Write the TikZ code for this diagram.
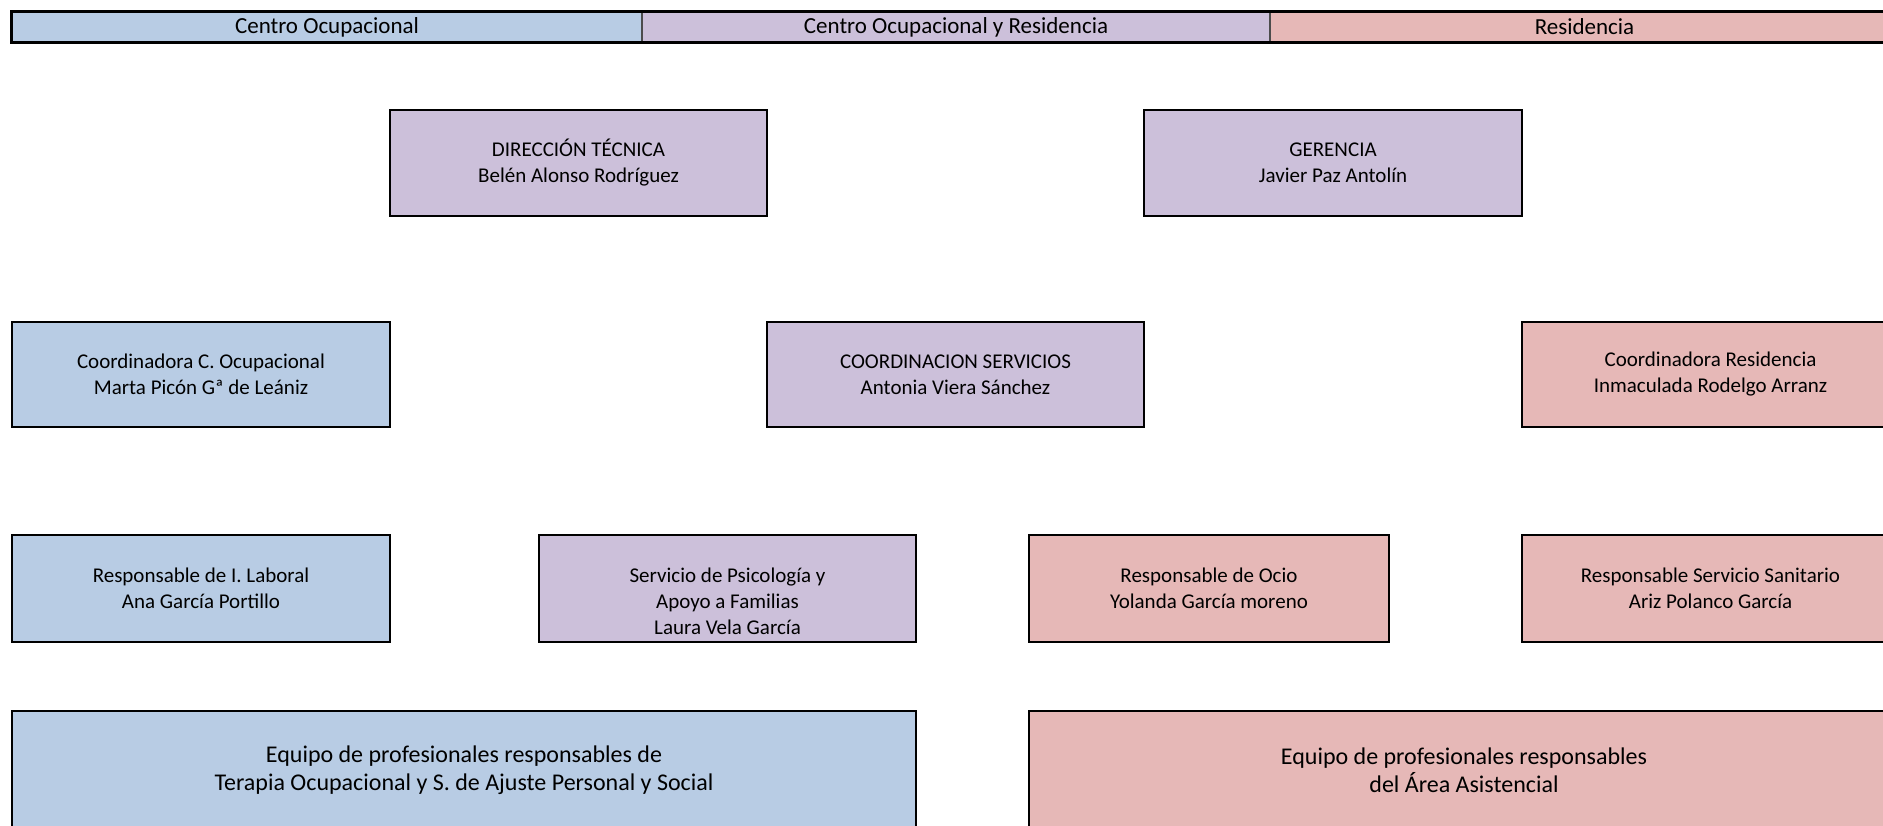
\documentclass[tikz,border=0pt]{standalone}
\usepackage{fontspec}
\setmainfont{Carlito}
\definecolor{ocublue}{RGB}{184,204,228}
\definecolor{ocupurple}{RGB}{204,192,218}
\definecolor{ocupink}{RGB}{230,184,183}
\tikzset{
	orgbox/.style={draw=black, line width=1.3pt, align=center, inner sep=0pt, font=\fontsize{10.5}{13}\selectfont},
	orgtext/.style={align=center, inner sep=0pt, font=\fontsize{10.5}{13}\selectfont},
	headcell/.style={draw=black!70, line width=0.6pt, inner sep=0pt, minimum height=15pt, font=\fontsize{11.5}{13}\selectfont},
	teambox/.style={orgbox, font=\fontsize{12}{14}\selectfont}
}

\begin{document}
\begin{tikzpicture}[x=0.5pt, y=-0.5pt]
			%%%%% START %%%%%
			
			\useasboundingbox (0, 0) rectangle (1883, 825);
			\clip (0, 0) rectangle (1883, 825);
			
			\node[headcell, fill=ocublue, minimum width=315pt] (hdco) at (327, 27) {Centro Ocupacional};
			\node[headcell, fill=ocupurple, minimum width=314pt] (hdcores) at (956, 27) {Centro Ocupacional y Residencia};
			\node[headcell, fill=ocupink, minimum width=314.5pt] (hdres) at (1584.5, 27) {Residencia};
			\draw[line width=1.3pt] (hdco.north west) rectangle (hdres.south east);
			
			\node[orgbox, fill=ocupurple, minimum width=188.5pt, minimum height=53pt] (direccion) at (578.5, 163) {DIRECCIÓN TÉCNICA\\Belén Alonso Rodríguez};
			\node[orgbox, fill=ocupurple, minimum width=189pt, minimum height=53pt] (gerencia) at (1333, 163) {GERENCIA\\Javier Paz Antolín};
			
			\node[orgbox, fill=ocublue, minimum width=189pt, minimum height=52.5pt] (coordco) at (201, 374.5) {Coordinadora C. Ocupacional\\Marta Picón Gª de Leániz};
			\node[orgbox, fill=ocupurple, minimum width=188.5pt, minimum height=52.5pt] (coordserv) at (955.5, 374.5) {COORDINACION SERVICIOS\\Antonia Viera Sánchez};
			\node[orgbox, fill=ocupink, minimum width=188.5pt, minimum height=52.5pt] (coordres) at (1710.5, 374.5) {Coordinadora Residencia\\Inmaculada Rodelgo Arranz};
			
			\node[orgbox, fill=ocublue, minimum width=189pt, minimum height=53.5pt] (laboral) at (201, 588.5) {Responsable de I. Laboral\\Ana García Portillo};
			\node[orgbox, fill=ocupurple, minimum width=188.5pt, minimum height=53.5pt] (psico) at (727.5, 588.5) {};
			\node[orgtext] (psicotext) at ([yshift=-6.5pt]psico.center) {Servicio de Psicología y\\Apoyo a Familias\\Laura Vela García};
			\node[orgbox, fill=ocupink, minimum width=180pt, minimum height=53.5pt] (ocio) at (1209, 588.5) {Responsable de Ocio\\Yolanda García moreno};
			\node[orgbox, fill=ocupink, minimum width=188.5pt, minimum height=53.5pt] (sanitario) at (1710.5, 588.5) {Responsable Servicio Sanitario\\Ariz Polanco García};
			
			\node[teambox, fill=ocublue, minimum width=452pt, minimum height=59pt] (equipoco) at (464, 770) {Equipo de profesionales responsables de\\Terapia Ocupacional y S. de Ajuste Personal y Social};
			\node[teambox, fill=ocupink, minimum width=435pt, minimum height=59pt] (equipores) at (1464, 770) {Equipo de profesionales responsables\\del Área Asistencial};
			
			%%%%% END %%%%%
\end{tikzpicture}
\end{document}
